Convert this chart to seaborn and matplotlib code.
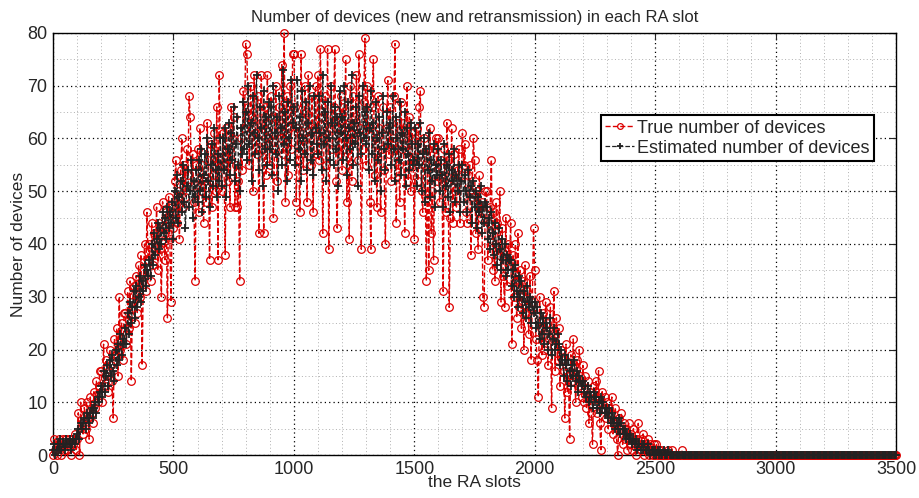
import numpy as np
import pandas as pd
import matplotlib
matplotlib.use("Agg")
import matplotlib.pyplot as plt
import seaborn as sns
from matplotlib.ticker import MultipleLocator

# RA slot positions (every 5th slot shown)
slots = np.arange(0, 3501, 5)

true_devices = [
    0, 3, 1, 0, 2, 3, 2, 0, 3, 1, 2, 3, 1, 3, 2, 0, 3, 2, 4, 1,
    3, 8, 0, 10, 6, 4, 9, 5, 10, 7, 3, 11, 8, 6, 12, 9, 14, 10, 13, 16,
    16, 10, 21, 13, 18, 15, 12, 20, 17, 14, 7, 22, 19, 24, 15, 30, 20, 25, 18, 27,
    27, 21, 31, 24, 33, 14, 29, 32, 25, 34, 27, 36, 30, 38, 17, 33, 40, 31, 46, 37,
    40, 33, 44, 36, 42, 38, 47, 35, 44, 39, 30, 48, 43, 37, 46, 26, 49, 41, 29, 47,
    43, 52, 56, 44, 50, 41, 54, 60, 47, 55, 49, 58, 53, 68, 64, 51, 57, 48, 33, 55,
    58, 46, 62, 50, 55, 44, 52, 48, 63, 56, 37, 59, 47, 53, 61, 50, 66, 37, 72, 56,
    50, 61, 55, 38, 62, 52, 58, 47, 66, 60, 64, 47, 55, 47, 52, 33, 60, 54, 69, 62,
    78, 76, 66, 55, 70, 64, 50, 72, 61, 57, 68, 42, 63, 72, 58, 42, 66, 53, 72, 60,
    55, 68, 64, 45, 58, 70, 52, 62, 66, 60, 74, 57, 80, 48, 68, 53, 62, 70, 58, 76,
    76, 66, 48, 62, 56, 46, 76, 60, 54, 70, 65, 48, 72, 60, 55, 68, 46, 62, 70, 57,
    72, 56, 77, 64, 42, 60, 68, 55, 77, 39, 62, 70, 58, 66, 77, 52, 43, 64, 57, 68,
    54, 66, 58, 75, 48, 63, 41, 70, 52, 68, 60, 64, 72, 56, 76, 62, 39, 58, 67, 79,
    55, 70, 62, 48, 39, 66, 75, 53, 60, 47, 68, 62, 46, 58, 66, 54, 40, 62, 71, 57,
    66, 52, 60, 68, 78, 44, 63, 55, 48, 67, 58, 63, 42, 61, 70, 52, 64, 50, 61, 56,
    41, 60, 62, 52, 66, 69, 50, 46, 60, 55, 33, 58, 35, 62, 42, 50, 37, 58, 60, 52,
    60, 48, 56, 52, 31, 58, 46, 63, 56, 28, 45, 62, 44, 57, 50, 47, 54, 58, 44, 53,
    61, 55, 59, 46, 44, 53, 55, 38, 49, 60, 56, 42, 50, 39, 53, 45, 48, 30, 28, 50,
    50, 37, 44, 47, 56, 35, 46, 33, 48, 44, 38, 50, 29, 43, 34, 28, 45, 32, 40, 36,
    44, 21, 38, 30, 40, 26, 42, 28, 35, 24, 33, 20, 36, 27, 31, 23, 34, 18, 29, 43,
    35, 22, 18, 11, 30, 24, 19, 27, 20, 29, 25, 17, 22, 28, 9, 24, 31, 16, 26, 18,
    24, 13, 20, 18, 16, 7, 21, 12, 15, 3, 19, 14, 22, 17, 10, 18, 13, 20, 15, 11,
    17, 10, 15, 9, 14, 6, 12, 8, 2, 13, 11, 14, 8, 16, 6, 1, 12, 9, 11, 7,
    10, 5, 9, 8, 11, 4, 6, 9, 3, 0, 7, 5, 8, 2, 6, 3, 5, 1, 6, 2,
    4, 1, 5, 2, 0, 3, 6, 2, 1, 3, 4, 0, 2, 1, 3, 0, 2, 1, 0, 2,
    0, 2, 0, 1, 0, 1, 0, 0, 0, 0, 0, 1, 0, 0, 1, 0, 0, 0, 0, 0,
    0, 0, 1, 0, 0, 0, 0, 0, 0, 0, 0, 0, 0, 0, 0, 0, 0, 0, 0, 0,
    0, 0, 0, 0, 0, 0, 0, 0, 0, 0, 0, 0, 0, 0, 0, 0, 0, 0, 0, 0,
    0, 0, 0, 0, 0, 0, 0, 0, 0, 0, 0, 0, 0, 0, 0, 0, 0, 0, 0, 0,
    0, 0, 0, 0, 0, 0, 0, 0, 0, 0, 0, 0, 0, 0, 0, 0, 0, 0, 0, 0,
    0, 0, 0, 0, 0, 0, 0, 0, 0, 0, 0, 0, 0, 0, 0, 0, 0, 0, 0, 0,
    0, 0, 0, 0, 0, 0, 0, 0, 0, 0, 0, 0, 0, 0, 0, 0, 0, 0, 0, 0,
    0, 0, 0, 0, 0, 0, 0, 0, 0, 0, 0, 0, 0, 0, 0, 0, 0, 0, 0, 0,
    0, 0, 0, 0, 0, 0, 0, 0, 0, 0, 0, 0, 0, 0, 0, 0, 0, 0, 0, 0,
    0, 0, 0, 0, 0, 0, 0, 0, 0, 0, 0, 0, 0, 0, 0, 0, 0, 0, 0, 0,
    0,
]

estimated_devices = [
    1, 2, 0, 1, 2, 1, 3, 1, 2, 2, 1, 3, 2, 2, 3, 1, 2, 3, 2, 3,
    4, 5, 3, 6, 5, 6, 7, 5, 8, 7, 6, 8, 9, 7, 9, 10, 8, 11, 10, 12,
    13, 11, 16, 12, 15, 17, 13, 18, 15, 19, 16, 14, 20, 17, 21, 18, 23, 19, 22, 21,
    24, 21, 27, 23, 29, 25, 28, 31, 26, 32, 28, 30, 34, 29, 33, 31, 36, 32, 35, 34,
    37, 34, 40, 36, 42, 38, 41, 44, 39, 43, 40, 46, 42, 45, 41, 47, 43, 46, 44, 48,
    41, 50, 45, 53, 44, 49, 52, 46, 55, 48, 43, 51, 54, 47, 50, 56, 45, 52, 49, 54,
    48, 56, 50, 58, 46, 53, 57, 49, 60, 52, 47, 55, 59, 51, 62, 54, 49, 57, 52, 60,
    51, 60, 54, 62, 49, 58, 63, 53, 61, 56, 66, 52, 59, 64, 55, 50, 62, 57, 67, 58,
    65, 56, 70, 59, 63, 52, 68, 61, 57, 72, 60, 54, 66, 62, 51, 69, 58, 64, 55, 67,
    58, 66, 53, 70, 61, 57, 64, 50, 68, 62, 55, 73, 59, 65, 52, 67, 60, 56, 71, 63,
    66, 55, 62, 71, 58, 64, 52, 69, 60, 57, 67, 54, 63, 70, 56, 61, 53, 68, 62, 59,
    57, 68, 61, 54, 72, 59, 65, 52, 67, 60, 56, 70, 63, 55, 66, 58, 64, 51, 69, 61,
    64, 56, 70, 60, 53, 67, 62, 58, 72, 55, 63, 59, 66, 51, 68, 61, 57, 70, 60, 65,
    59, 66, 54, 62, 69, 57, 63, 52, 67, 60, 56, 64, 50, 61, 68, 58, 54, 65, 59, 62,
    63, 55, 68, 58, 52, 64, 60, 56, 67, 53, 61, 58, 65, 51, 62, 57, 54, 63, 59, 55,
    56, 62, 51, 59, 55, 63, 50, 57, 60, 48, 58, 54, 61, 49, 56, 52, 59, 47, 55, 53,
    58, 50, 56, 53, 47, 59, 51, 55, 49, 57, 46, 54, 52, 58, 48, 53, 50, 55, 46, 52,
    55, 48, 53, 50, 46, 54, 49, 51, 44, 52, 47, 50, 43, 49, 46, 51, 42, 47, 44, 48,
    47, 41, 45, 39, 46, 42, 38, 44, 40, 36, 43, 39, 35, 41, 37, 40, 34, 38, 35, 37,
    37, 32, 35, 30, 36, 31, 28, 34, 30, 33, 27, 31, 29, 26, 32, 28, 30, 25, 29, 27,
    29, 24, 28, 25, 22, 27, 23, 26, 21, 25, 24, 20, 23, 26, 19, 22, 24, 20, 21, 23,
    21, 17, 20, 18, 15, 19, 17, 14, 18, 16, 13, 17, 15, 18, 14, 16, 12, 15, 14, 13,
    14, 12, 13, 11, 13, 10, 12, 11, 9, 12, 10, 11, 9, 10, 8, 11, 9, 10, 8, 9,
    8, 7, 9, 6, 8, 6, 7, 5, 6, 5, 7, 4, 6, 5, 4, 5, 3, 4, 3, 4,
    3, 2, 3, 2, 3, 1, 2, 2, 1, 2, 1, 2, 1, 1, 2, 1, 0, 1, 1, 0,
    1, 0, 1, 0, 1, 0, 0, 1, 0, 0, 0, 1, 0, 0, 0, 0, 0, 0, 0, 0,
    0, 0, 0, 0, 0, 0, 0, 0, 0, 0, 0, 0, 0, 0, 0, 0, 0, 0, 0, 0,
    0, 0, 0, 0, 0, 0, 0, 0, 0, 0, 0, 0, 0, 0, 0, 0, 0, 0, 0, 0,
    0, 0, 0, 0, 0, 0, 0, 0, 0, 0, 0, 0, 0, 0, 0, 0, 0, 0, 0, 0,
    0, 0, 0, 0, 0, 0, 0, 0, 0, 0, 0, 0, 0, 0, 0, 0, 0, 0, 0, 0,
    0, 0, 0, 0, 0, 0, 0, 0, 0, 0, 0, 0, 0, 0, 0, 0, 0, 0, 0, 0,
    0, 0, 0, 0, 0, 0, 0, 0, 0, 0, 0, 0, 0, 0, 0, 0, 0, 0, 0, 0,
    0, 0, 0, 0, 0, 0, 0, 0, 0, 0, 0, 0, 0, 0, 0, 0, 0, 0, 0, 0,
    0, 0, 0, 0, 0, 0, 0, 0, 0, 0, 0, 0, 0, 0, 0, 0, 0, 0, 0, 0,
    0, 0, 0, 0, 0, 0, 0, 0, 0, 0, 0, 0, 0, 0, 0, 0, 0, 0, 0, 0,
    0,
]

x_ticks = [0, 500, 1000, 1500, 2000, 2500, 3000, 3500]
y_ticks = [0, 10, 20, 30, 40, 50, 60, 70, 80]

df = pd.DataFrame({"slot": slots, "true": true_devices, "est": estimated_devices})

sns.set_style("white")
plt.rcParams["font.family"] = ["Liberation Sans", "DejaVu Sans"]
TXT = "#262626"
RED = "#dd0000"
BLK = "#222222"

fig = plt.figure(figsize=(9.19, 4.98), dpi=100)
ax = fig.add_axes([53 / 919, 1 - 455 / 498, 843 / 919, 422 / 498])

sns.lineplot(data=df, x="slot", y="true", ax=ax, color=RED, linestyle="--",
             linewidth=1.0, marker="o", markersize=5.5, markerfacecolor="none",
             markeredgecolor=RED, markeredgewidth=0.9,
             label="True number of devices", clip_on=False, zorder=3)
sns.lineplot(data=df, x="slot", y="est", ax=ax, color=BLK, linestyle="--",
             linewidth=0.9, marker="+", markersize=6, markeredgecolor=BLK,
             markeredgewidth=1.3,
             label="Estimated number of devices", clip_on=False, zorder=4)

ax.set_xlim(0, 3500)
ax.set_ylim(0, 80)
ax.set_xticks(x_ticks)
ax.set_yticks(y_ticks)
ax.xaxis.set_minor_locator(MultipleLocator(100))
ax.yaxis.set_minor_locator(MultipleLocator(5))
ax.grid(which="major", color="black", linestyle=(0, (1, 2.5)), linewidth=0.9)
ax.grid(which="minor", color="#b0b0b0", linestyle=(0, (1, 2.5)), linewidth=0.7)
ax.set_axisbelow(True)

ax.tick_params(which="major", direction="in", length=5, width=0.8,
               top=True, right=True, labelsize=13, labelcolor=TXT, pad=4)
ax.tick_params(which="minor", length=0)
for s in ax.spines.values():
    s.set_visible(True)
    s.set_color("black")
    s.set_linewidth(1.0)

ax.set_title("Number of devices (new and retransmission) in each RA slot",
             fontsize=12, color=TXT, pad=8)
ax.set_xlabel("the RA slots", fontsize=12.5, color=TXT, labelpad=-2)
ax.set_ylabel("Number of devices", fontsize=12.5, color=TXT, labelpad=1)

leg = ax.legend(loc="upper right", bbox_to_anchor=(0.974, 0.805), fontsize=13,
                frameon=True, fancybox=False, handlelength=1.6,
                handletextpad=0.15, labelspacing=0.15, borderpad=0.25,
                borderaxespad=0, markerscale=0.75)
leg.get_frame().set_edgecolor("black")
leg.get_frame().set_linewidth(1.5)
leg.get_frame().set_facecolor("white")
leg.get_frame().set_alpha(1)
for t in leg.get_texts():
    t.set_color(TXT)

fig.savefig("out.png", dpi=100)
